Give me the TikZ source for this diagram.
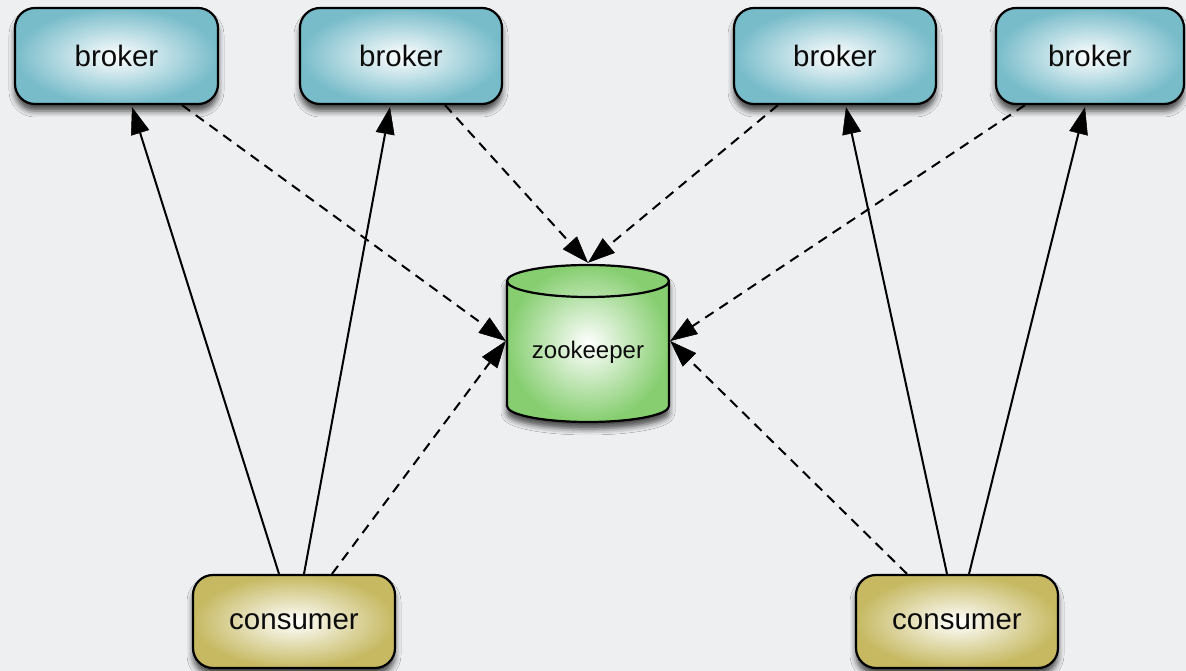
\documentclass[tikz,border=0pt]{standalone}
\usepackage{fontspec}
\setmainfont{Liberation Sans}
\usetikzlibrary{arrows.meta,shadows.blur}
\definecolor{bgc}{RGB}{238,239,241}
\definecolor{brokerc}{RGB}{120,188,202}
\definecolor{consc}{RGB}{198,185,98}
\definecolor{zkc}{RGB}{134,206,112}
\definecolor{inkc}{RGB}{12,12,12}
\tikzset{
  boxshadow/.style={blur shadow={shadow xshift=0pt, shadow yshift=-7pt, shadow blur radius=6pt, shadow opacity=70}},
  brokerbox/.style={draw=black, line width=2.2pt, rounded corners=20pt, inner color=white, outer color=brokerc,
    minimum height=96pt, text=inkc, font=\fontsize{29.5}{34}\selectfont, boxshadow},
  consbox/.style={draw=black, line width=2.2pt, rounded corners=20pt, inner color=white, outer color=consc,
    minimum height=93pt, minimum width=202pt, text=inkc, font=\fontsize{29.5}{34}\selectfont, boxshadow},
  zkbox/.style={draw=none, minimum width=162pt, minimum height=157pt, inner sep=0pt},
  zklab/.style={text=inkc, font=\fontsize{24}{28}\selectfont, inner sep=0pt},
  tip/.style={-{Triangle[length=27pt,width=19pt,fill=black,line width=0.5pt]}},
  sarrow/.style={line width=2pt, draw=black, tip},
  darrow/.style={line width=2pt, draw=black, dash pattern=on 10pt off 7pt, tip},
}
\begin{document}
\begin{tikzpicture}[x=1pt,y=1pt]
\useasboundingbox[fill=bgc] (0,0) rectangle (1186,671);

% brokers
\node[brokerbox, minimum width=203pt] (b1) at (116.5,615) {broker};
\node[brokerbox, minimum width=202pt] (b2) at (401,615) {broker};
\node[brokerbox, minimum width=202pt] (b3) at (835,615) {broker};
\node[brokerbox, minimum width=188pt] (b4) at (1090,615) {broker};

% consumers
\node[consbox] (c1) at (294,49.5) {consumer};
\node[consbox] (c2) at (957,49.5) {consumer};

% zookeeper cylinder
\node[zkbox] (zk) at (588,327.5) {};
\path[boxshadow, inner color=white, outer color=zkc, draw=black, line width=2.2pt]
  (507,390) -- (507,265) arc[start angle=180, end angle=360, x radius=81, y radius=16]
  -- (669,390) arc[start angle=0, end angle=180, x radius=81, y radius=16] -- cycle;
\draw[line width=2.2pt] (507,390) arc[start angle=180, end angle=360, x radius=81, y radius=16];
\node[zklab] (zklabel) at (588,318.5) {zookeeper};

% solid connectors
\draw[sarrow] ([xshift=-15pt]c1.north) -- ([xshift=15.5pt,yshift=-2pt]b1.south);
\draw[sarrow] ([xshift=10pt]c1.north) -- ([xshift=-11pt,yshift=-2pt]b2.south);
\draw[sarrow] ([xshift=-10pt]c2.north) -- ([xshift=11pt,yshift=-2pt]b3.south);
\draw[sarrow] ([xshift=12pt]c2.north) -- ([xshift=-5pt,yshift=-2pt]b4.south);

% dashed connectors
\draw[darrow] ([xshift=65.5pt]b1.south) -- ([xshift=-1pt,yshift=2.5pt]zk.west);
\draw[darrow] ([xshift=44pt]b2.south) -- ([yshift=2pt]zk.north);
\draw[darrow] ([xshift=-57pt]b3.south) -- ([yshift=2pt]zk.north);
\draw[darrow] ([xshift=-65pt]b4.south) -- ([xshift=1pt,yshift=2.5pt]zk.east);
\draw[darrow] ([xshift=38pt]c1.north) -- ([xshift=-1pt,yshift=2.5pt]zk.west);
\draw[darrow] ([xshift=-50pt]c2.north) -- ([xshift=1pt,yshift=2.5pt]zk.east);
\end{tikzpicture}
\end{document}
